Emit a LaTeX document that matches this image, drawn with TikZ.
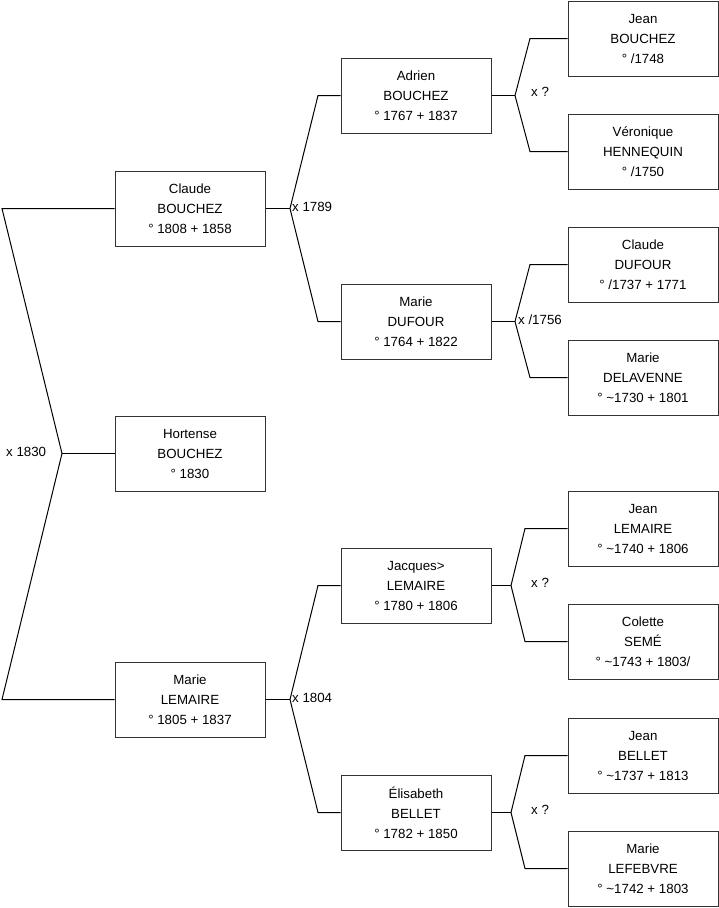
\documentclass[tikz,border=0pt]{standalone}
\usepackage{fontspec}
\setmainfont{Liberation Sans}
\begin{document}
\begin{tikzpicture}[x=1pt,y=-1pt,
  person/.style={draw=black!80,line width=1pt,fill=white,minimum width=150pt,minimum height=75pt,inner sep=0pt,align=center,font=\fontsize{13.3}{20}\selectfont},
  link/.style={draw=black,line width=1pt},
  mlabel/.style={anchor=west,inner sep=0pt,font=\fontsize{13.3}{16}\selectfont}]
\useasboundingbox (0,0) rectangle (719,908);
% generation 1
\node[person] (claude) at (190,208.5) {Claude\\BOUCHEZ\\° 1808 + 1858};
\node[person] (hortense) at (190,453.5) {Hortense\\BOUCHEZ\\° 1830};
\node[person] (marieL) at (190,699.5) {Marie\\LEMAIRE\\° 1805 + 1837};
% generation 2
\node[person] (adrien) at (416,95.5) {Adrien\\BOUCHEZ\\° 1767 + 1837};
\node[person] (marieD) at (416,321.5) {Marie\\DUFOUR\\° 1764 + 1822};
\node[person] (jacques) at (416,585.5) {Jacques>\\LEMAIRE\\° 1780 + 1806};
\node[person] (elisabeth) at (416,812.5) {Élisabeth\\BELLET\\° 1782 + 1850};
% generation 3
\node[person] (jeanB) at (643,38.5) {Jean\\BOUCHEZ\\° /1748};
\node[person] (veronique) at (643,151.5) {Véronique\\HENNEQUIN\\° /1750};
\node[person] (claudeD) at (643,264.5) {Claude\\DUFOUR\\° /1737 + 1771};
\node[person] (marieDel) at (643,377.5) {Marie\\DELAVENNE\\° \textasciitilde1730 + 1801};
\node[person] (jeanL) at (643,528.5) {Jean\\LEMAIRE\\° \textasciitilde1740 + 1806};
\node[person] (colette) at (643,641.5) {Colette\\SEMÉ\\° \textasciitilde1743 + 1803/};
\node[person] (jeanBe) at (643,755.5) {Jean\\BELLET\\° \textasciitilde1737 + 1813};
\node[person] (marieLe) at (643,868.5) {Marie\\LEFEBVRE\\° \textasciitilde1742 + 1803};
% fork points
\coordinate (f0) at (62,453.5);
\coordinate (f1) at (290,208.5);
\coordinate (f2) at (290,699.5);
\coordinate (f3) at (515,95.5);
\coordinate (f4) at (515,321.5);
\coordinate (f5) at (511,585.5);
\coordinate (f6) at (511,812.5);
% connectors
\draw[link] (hortense.west) -- (f0);
\draw[link] (f0) -- (2,208.5) -- (claude.west);
\draw[link] (f0) -- (2,699.5) -- (marieL.west);
\draw[link] (claude.east) -- (f1);
\draw[link] (f1) -- (318,95.5) -- (adrien.west);
\draw[link] (f1) -- (318,321.5) -- (marieD.west);
\draw[link] (marieL.east) -- (f2);
\draw[link] (f2) -- (318,585.5) -- (jacques.west);
\draw[link] (f2) -- (318,812.5) -- (elisabeth.west);
\draw[link] (adrien.east) -- (f3);
\draw[link] (f3) -- (530,38.5) -- (jeanB.west);
\draw[link] (f3) -- (530,151.5) -- (veronique.west);
\draw[link] (marieD.east) -- (f4);
\draw[link] (f4) -- (530,264.5) -- (claudeD.west);
\draw[link] (f4) -- (530,377.5) -- (marieDel.west);
\draw[link] (jacques.east) -- (f5);
\draw[link] (f5) -- (525,528.5) -- (jeanL.west);
\draw[link] (f5) -- (525,641.5) -- (colette.west);
\draw[link] (elisabeth.east) -- (f6);
\draw[link] (f6) -- (525,755.5) -- (jeanBe.west);
\draw[link] (f6) -- (525,868.5) -- (marieLe.west);
% marriage labels
\node[mlabel] (m0) at (6,452) {x 1830};
\node[mlabel] (m1) at (292,207) {x 1789};
\node[mlabel] (m2) at (292,698) {x 1804};
\node[mlabel] (m3) at (531,92) {x ?};
\node[mlabel] (m4) at (518,320) {x /1756};
\node[mlabel] (m5) at (531,583) {x ?};
\node[mlabel] (m6) at (531,810) {x ?};
\end{tikzpicture}
\end{document}
